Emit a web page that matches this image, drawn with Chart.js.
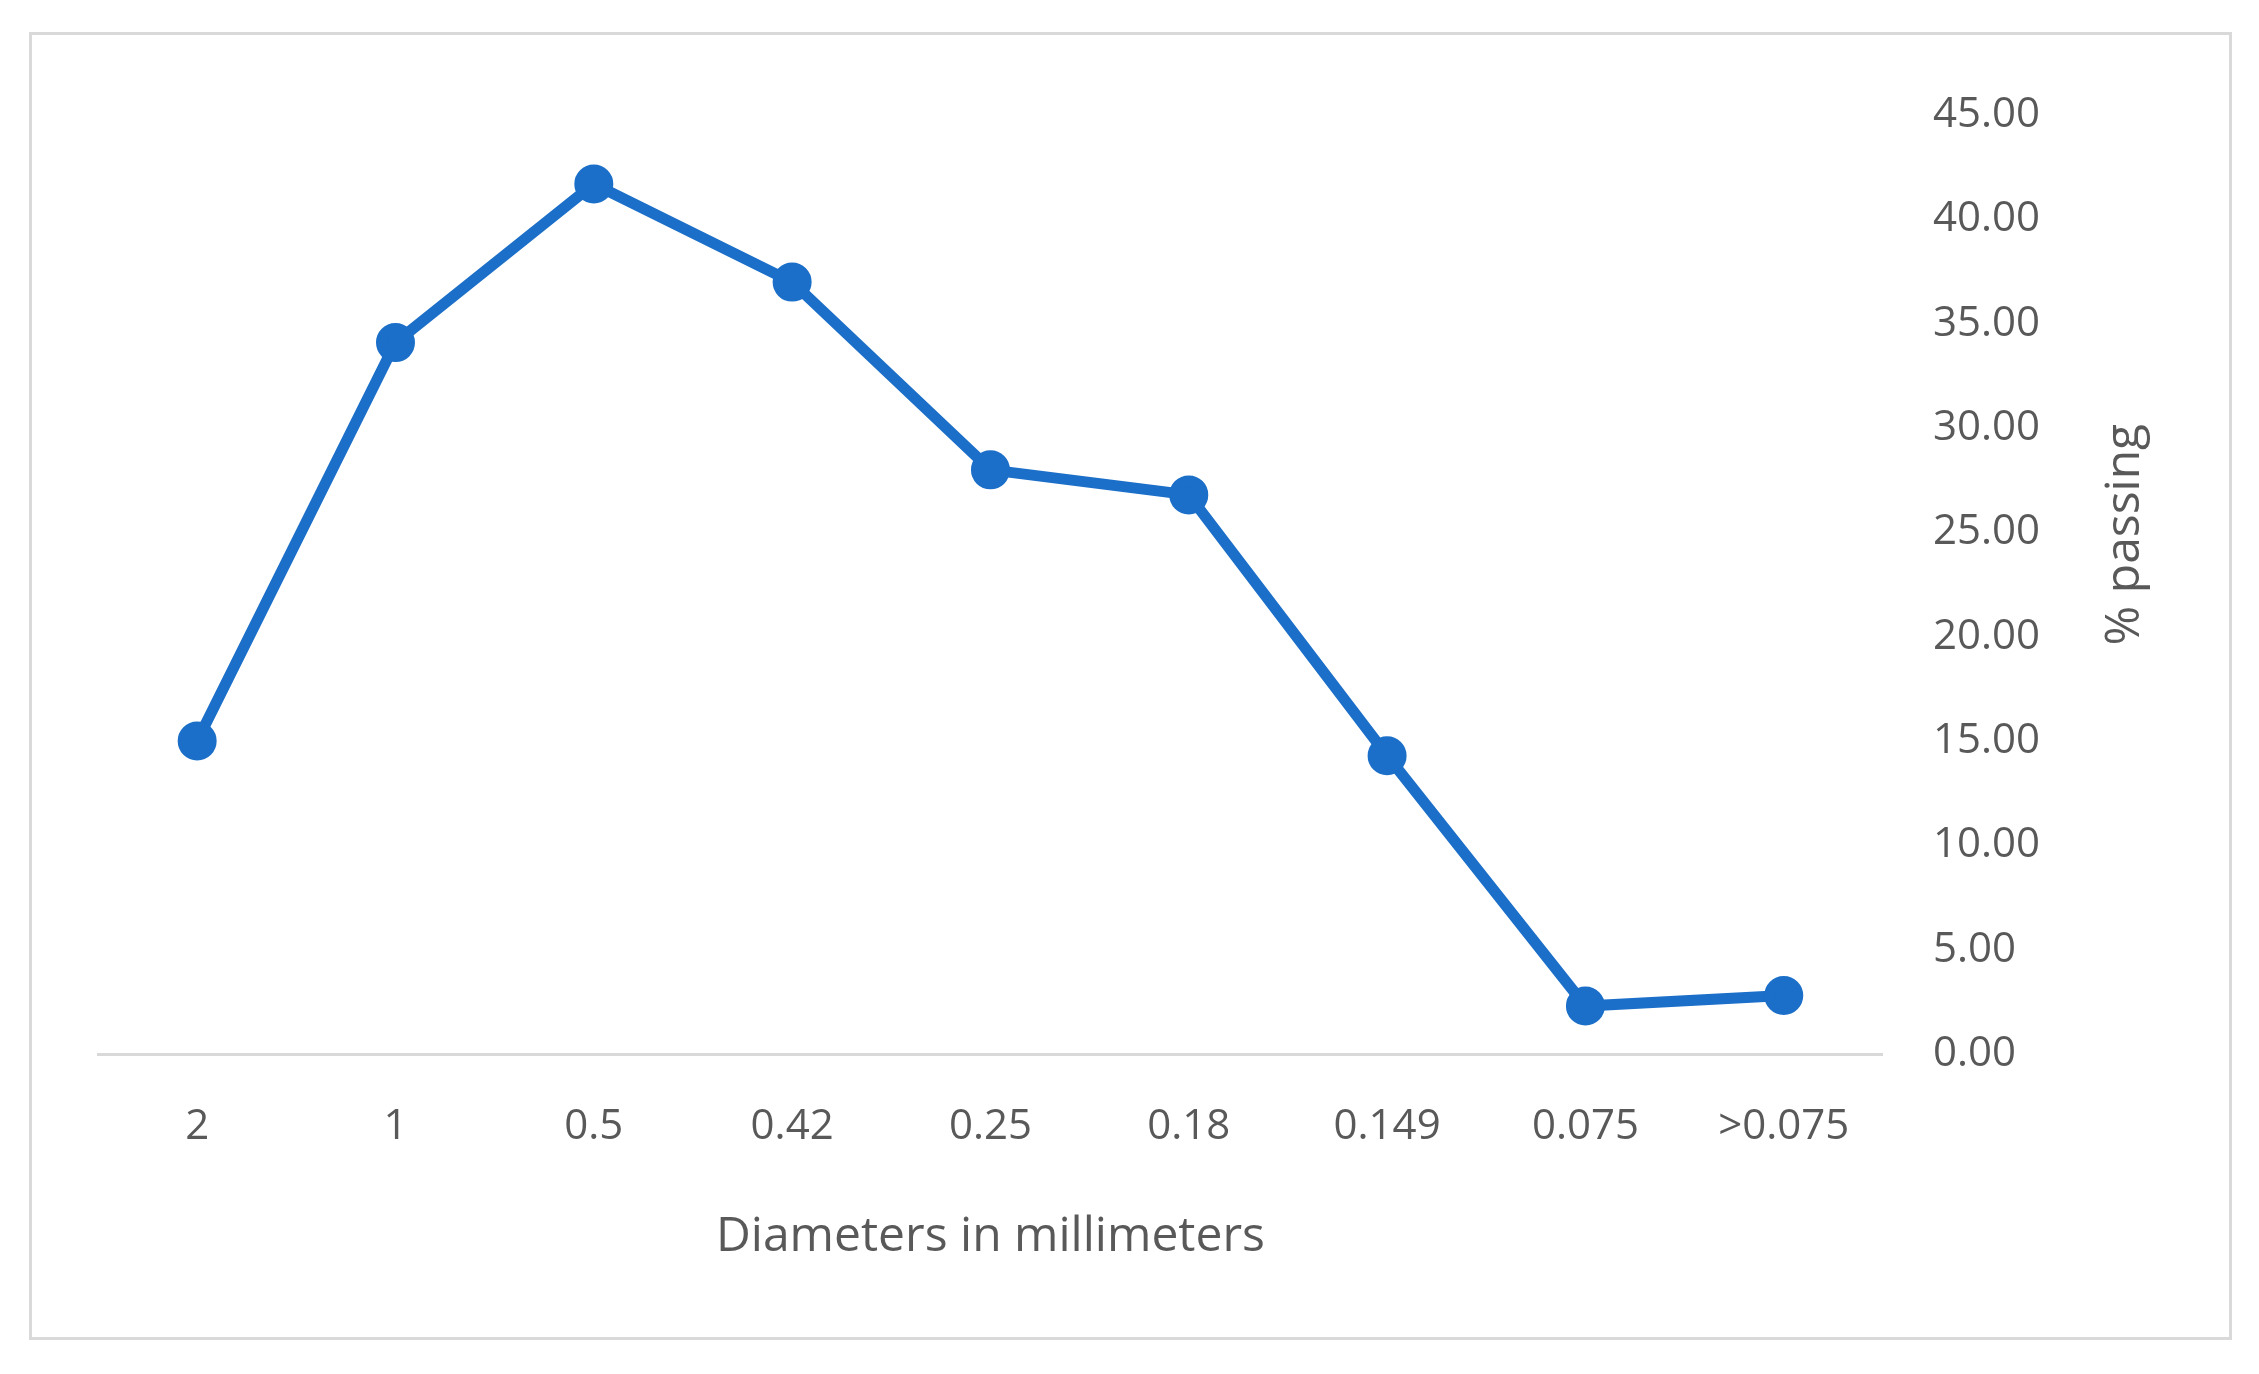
<!DOCTYPE html>
<html>
<head>
<meta charset="utf-8">
<script src="https://cdn.jsdelivr.net/npm/chart.js@4"></script>
<style>
  body { margin: 0; background: #fff; }
  #frame { position: absolute; left: 29px; top: 32px; width: 2203px; height: 1308px; border: 3px solid #d9d9d9; box-sizing: border-box; }
  #wrap { position: absolute; left: 40px; top: 40px; width: 2180px; height: 1290px; }
</style>
</head>
<body>
<div id="frame"></div>
<div id="wrap"><canvas id="chart"></canvas></div>
<script>
const diameters = ["2", "1", "0.5", "0.42", "0.25", "0.18", "0.149", "0.075", ">0.075"];
const passing = [15.0, 34.1, 41.7, 37.0, 28.0, 26.8, 14.3, 2.3, 2.8];
const yTicks = [0, 5, 10, 15, 20, 25, 30, 35, 40, 45];

// y title reads bottom-to-top on the right side, so draw it ourselves
const yTitle = {
  id: 'yTitle',
  afterDraw(chart) {
    const c = chart.ctx, y = chart.scales.y;
    c.save();
    c.translate(2085, (y.top + y.bottom) / 2 - 50);
    c.rotate(-Math.PI / 2);
    c.font = '48px "Open Sans"';
    c.fillStyle = '#595959';
    c.textAlign = 'center';
    c.textBaseline = 'middle';
    c.fillText('% passing', 0, 0);
    c.restore();
  }
};

window.onload = () => {
  const ctx = document.getElementById('chart').getContext('2d');
  new Chart(ctx, {
    type: 'line',
    data: {
      labels: diameters,
      datasets: [{
        data: passing,
        borderColor: '#1b6fc9',
        backgroundColor: '#1b6fc9',
        borderWidth: 11,
        pointRadius: 14,
        pointHoverRadius: 14,
        tension: 0
      }]
    },
    options: {
      responsive: true,
      maintainAspectRatio: false,
      animation: false,
      layout: { padding: { left: 58, top: 30, right: 130, bottom: 60 } },
      plugins: { legend: { display: false }, tooltip: { enabled: false } },
      scales: {
        x: {
          offset: true,
          grid: { display: false, drawTicks: false },
          border: { display: true, color: '#d9d9d9', width: 3 },
          ticks: { color: '#595959', font: { family: 'Open Sans', size: 42 }, padding: 48 },
          title: { display: true, text: 'Diameters in millimeters', color: '#595959', font: { family: 'Open Sans', size: 48 }, padding: { top: 8 } }
        },
        y: {
          position: 'right',
          min: 0, max: 45,
          afterBuildTicks: axis => { axis.ticks = yTicks.map(v => ({ value: v })); },
          grid: { display: false, drawTicks: false },
          border: { display: false },
          ticks: { color: '#595959', font: { family: 'Open Sans', size: 42 }, padding: 50, callback: v => v.toFixed(2) }
        }
      }
    },
    plugins: [yTitle]
  });
};
</script>
</body>
</html>
